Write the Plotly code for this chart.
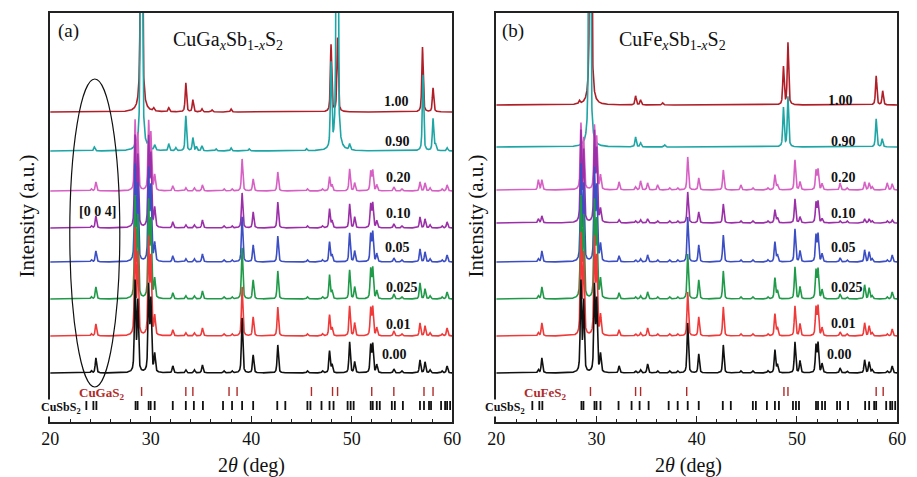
import numpy as np
import plotly.graph_objects as go

# ---------------------------------------------------------------- data
two_theta = np.round(np.arange(20.0, 60.0001, 0.01), 3)

compositions = ["1.00", "0.90", "0.20", "0.10", "0.05", "0.025", "0.01", "0.00"]

# (a) CuGa_xSb_{1-x}S_2 : Ga-rich patterns, (2θ, peak height)
ga_x100 = [(29.08, 600), (30.3, 3), (31.8, 4), (33.5, 29), (34.2, 12), (35.1, 3),
           (36.1, 2), (38.0, 3), (47.95, 67), (48.6, 74), (57.05, 65), (58.1, 24)]
ga_x090 = [(24.4, 4), (28.5, 4), (29.08, 600), (29.75, 5), (30.4, 5), (31.8, 7),
           (32.5, 3), (33.5, 35), (34.2, 13), (34.55, 4), (35.1, 5), (36.5, 2),
           (38.0, 3), (39.8, 2), (45.5, 2), (47.95, 84), (48.55, 600), (49.8, 6),
           (57.1, 76), (58.1, 32), (58.35, 6), (59.5, 3)]

# (a) Sb-rich patterns share the CuSbS2 reflections; heights per composition
ga_sbs_pos = [24.1, 24.55, 28.45, 28.72, 29.8, 30.02, 30.4, 32.2, 33.5, 34.35, 35.15,
              37.3, 38.1, 39.1, 40.2, 42.65, 45.6, 47.1, 47.8, 48.05, 49.8, 50.3,
              51.9, 52.1, 52.5, 54.2, 55.0, 56.8, 57.3, 57.8, 59.0, 59.5]
ga_x020 = [2, 9, 69, 55, 67, 55, 15, 5, 3, 3, 6, 2, 2, 32, 12, 19, 2, 2, 14, 6,
           22, 8, 19, 20, 6, 4, 2, 9, 8, 3, 2, 6]
ga_x010 = [2, 12, 90, 70, 88, 70, 19, 6, 3, 3, 8, 2, 2, 35, 16, 26, 2, 2, 19, 7,
           24, 11, 23, 24, 7, 4, 2, 11, 9, 3, 2, 6]
ga_x005 = [2, 11, 95, 75, 90, 72, 18, 6, 3, 3, 8, 2, 2, 45, 17, 26, 2, 2, 20, 7,
           29, 11, 27, 29, 8, 4, 2, 13, 10, 3, 2, 7]
ga_x0025 = [2, 12, 100, 80, 95, 75, 19, 6, 3, 3, 8, 2, 2, 51, 19, 28, 2, 2, 24, 8,
            29, 12, 29, 30, 8, 5, 2, 16, 10, 3, 2, 7]
ga_x001 = [2, 12, 105, 80, 95, 75, 19, 6, 3, 3, 8, 2, 2, 49, 19, 29, 2, 2, 21, 8,
           30, 13, 27, 28, 8, 5, 2, 13, 10, 3, 2, 8]
ga_x000 = [2, 15, 90, 70, 85, 70, 18, 7, 3, 3, 8, 2, 2, 55, 18, 28, 2, 2, 22, 8,
           31, 11, 27, 28, 8, 4, 2, 13, 11, 3, 2, 7]

# (b) CuFe_xSb_{1-x}S_2 : Fe-rich patterns
fe_x100 = [(28.3, 3), (29.42, 600), (33.9, 9), (34.4, 5), (36.6, 2), (48.65, 38),
           (49.1, 62), (57.9, 29), (58.55, 14)]
fe_x090 = [(29.32, 600), (33.9, 10), (34.4, 4), (36.8, 2), (48.65, 39), (49.1, 50),
           (57.9, 28), (58.5, 8)]

fe_sbs_pos = [24.2, 24.55, 28.45, 28.72, 29.8, 30.02, 30.4, 32.25, 33.9, 34.4, 35.1,
              36.1, 37.3, 38.1, 39.1, 40.2, 42.65, 44.4, 45.6, 47.1, 47.8, 48.05,
              49.8, 50.3, 51.9, 52.1, 52.5, 54.3, 55.0, 56.75, 57.2, 57.5, 59.0, 59.5]
fe_x020 = [10, 10, 65, 50, 62, 50, 14, 8, 3, 9, 7, 5, 2, 2, 33, 12, 20, 5, 2, 2,
           15, 5, 30, 8, 19, 20, 6, 7, 2, 8, 7, 3, 7, 6]
fe_x010 = [4, 7, 90, 70, 88, 70, 13, 3, 2, 3, 4, 2, 2, 2, 31, 11, 19, 2, 2, 2,
           13, 5, 24, 6, 20, 21, 4, 2, 2, 4, 4, 2, 2, 3]
fe_x005 = [3, 11, 95, 75, 90, 72, 17, 6, 2, 3, 7, 2, 2, 2, 45, 17, 27, 2, 2, 2,
           20, 7, 33, 11, 26, 27, 8, 4, 2, 12, 10, 3, 2, 7]
fe_x0025 = [3, 12, 100, 80, 95, 75, 19, 6, 2, 3, 7, 2, 2, 2, 45, 19, 28, 2, 2, 2,
            21, 8, 32, 12, 28, 29, 9, 5, 2, 14, 11, 3, 2, 7]
fe_x001 = [3, 13, 100, 80, 95, 75, 20, 6, 2, 3, 8, 2, 2, 2, 44, 19, 29, 2, 2, 2,
           22, 8, 30, 12, 28, 29, 8, 4, 2, 13, 10, 3, 2, 7]
fe_x000 = [3, 15, 90, 70, 85, 70, 18, 7, 2, 3, 9, 2, 2, 2, 50, 19, 28, 2, 2, 2,
           23, 8, 31, 12, 27, 29, 9, 5, 2, 13, 11, 3, 2, 7]

# reference reflections (2θ)
cugas2_ref = [29.1, 33.5, 34.2, 37.8, 38.6, 46.0, 48.1, 48.6, 52.0, 54.2, 57.2, 58.1]
cufes2_ref = [29.4, 33.9, 34.4, 39.0, 48.7, 49.1, 57.9, 58.6]
cusbs2_ref = [23.6, 24.3, 24.6, 28.5, 28.7, 29.8, 30.0, 30.4, 32.2, 33.5, 34.3, 35.2,
              37.2, 38.1, 39.1, 40.2, 42.6, 43.4, 45.6, 45.9, 47.0, 47.8, 48.2, 49.6,
              49.9, 50.2, 51.9, 52.1, 52.5, 52.8, 54.0, 54.3, 55.1, 56.8, 57.2, 57.7,
              57.9, 58.9, 59.3, 59.5, 59.8]

x_ticks = [20, 30, 40, 50, 60]

# ---------------------------------------------------------------- styling
colors = ["#b01e28", "#1ea5a5", "#d760c4", "#9b2fa8", "#3b4ec4", "#1f9a48",
          "#f03a3a", "#111111"]
offsets_a = [310, 271, 231, 194, 160, 123, 86, 49]
offsets_b = [317, 275, 232, 199, 160, 123, 86, 49]
label_pos_a = [(52.98, 321), (53.14, 281), (53.2, 245), (53.2, 209), (53.14, 175),
               (53.2, 135), (53.27, 98), (52.8, 68)]
label_pos_b = [(52.9, 322), (53.2, 281), (53.2, 245), (53.2, 209), (53.2, 175),
               (53.2, 135), (53.2, 99), (52.8, 68)]
FWHM = 0.16
ETA = 0.55
SERIF = "Liberation Serif"


def profile(peaks):
    """Pseudo-Voigt line profile summed over (2θ, height) reflections."""
    hw = FWHM / 2.0
    sig = FWHM / 2.3548
    y = np.zeros_like(two_theta)
    for pos, h in peaks:
        d = two_theta - pos
        lor = 1.0 / (1.0 + (d / hw) ** 2)
        gau = np.exp(-0.5 * (d / sig) ** 2)
        y += h * (ETA * lor + (1 - ETA) * gau)
    return y


panel_a = [ga_x100, ga_x090] + [list(zip(ga_sbs_pos, h)) for h in
                                 (ga_x020, ga_x010, ga_x005, ga_x0025, ga_x001, ga_x000)]
panel_b = [fe_x100, fe_x090] + [list(zip(fe_sbs_pos, h)) for h in
                                 (fe_x020, fe_x010, fe_x005, fe_x0025, fe_x001, fe_x000)]

fig = go.Figure()


def add_panel(patterns, offsets, xa, ya):
    for peaks, off, col in zip(patterns, offsets, colors):
        fig.add_trace(go.Scatter(x=two_theta, y=profile(peaks) + off, mode="lines",
                                 line=dict(color=col, width=1.6), xaxis=xa, yaxis=ya,
                                 hoverinfo="skip", showlegend=False))


def add_sticks(positions, y0, y1, col, width, xa, ya):
    xs, ys = [], []
    for p in positions:
        xs += [p, p, None]
        ys += [y0, y1, None]
    fig.add_trace(go.Scatter(x=xs, y=ys, mode="lines", line=dict(color=col, width=width),
                             xaxis=xa, yaxis=ya, hoverinfo="skip", showlegend=False))


add_panel(panel_a, offsets_a, "x", "y")
add_panel(panel_b, offsets_b, "x2", "y2")
add_sticks(cugas2_ref, 26, 35, "#b02a2a", 1.4, "x", "y")
add_sticks(cusbs2_ref, 12, 21, "#111111", 1.8, "x", "y")
add_sticks(cufes2_ref, 26, 35, "#b02a2a", 1.4, "x2", "y2")
add_sticks(cusbs2_ref, 12, 21, "#111111", 1.8, "x2", "y2")

axis_x = dict(range=[20, 60], tickvals=x_ticks, ticks="inside", ticklen=6, tickwidth=1.3,
              tickcolor="#222", showline=True, linecolor="#222", linewidth=1.5,
              mirror=True, showgrid=False, zeroline=False,
              minor=dict(dtick=2, ticks="inside", ticklen=3, tickwidth=1.2,
                         tickcolor="#222", showgrid=False),
              tickfont=dict(family=SERIF, size=18, color="#111"))
axis_y = dict(range=[0, 409], showticklabels=False, ticks="", showline=True,
              linecolor="#222", linewidth=1.5, mirror=True, showgrid=False,
              zeroline=False)

fig.update_layout(
    width=917, height=477, margin=dict(l=0, r=0, t=13, b=55),
    paper_bgcolor="white", plot_bgcolor="white",
    xaxis=dict(domain=[42 / 917, 452 / 917], anchor="y", **axis_x),
    yaxis=dict(domain=[0, 1], anchor="x", **axis_y),
    xaxis2=dict(domain=[497 / 917, 906 / 917], anchor="y2", **axis_x),
    yaxis2=dict(domain=[0, 1], anchor="x2", **axis_y),
)


def text_note(x, y, xref, yref, text, size, color="#111", **kw):
    return dict(x=x, y=y, xref=xref, yref=yref, text=text, showarrow=False,
                xanchor=kw.pop("xanchor", "center"), yanchor=kw.pop("yanchor", "middle"),
                font=dict(family=SERIF, size=size, color=color), **kw)


ann = []
for (xa, ya, pos) in (("x", "y", label_pos_a), ("x2", "y2", label_pos_b)):
    for (lx, ly), txt in zip(pos, compositions):
        ann.append(text_note(lx, ly, xa, ya, f"<b>{txt}</b>", 14, xanchor="left"))

ann += [
    text_note(37.7, 382, "x", "y",
              "CuGa<sub><i>x</i></sub>Sb<sub>1-<i>x</i></sub>S<sub>2</sub>", 20),
    text_note(37.6, 382, "x2", "y2",
              "CuFe<sub><i>x</i></sub>Sb<sub>1-<i>x</i></sub>S<sub>2</sub>", 20),
    text_note(21.85, 391, "x", "y", "(a)", 19),
    text_note(21.7, 391, "x2", "y2", "(b)", 19),
    text_note(24.7, 211, "x", "y", "<b>[0 0 4]</b>", 14),
    text_note(25.1, 29, "x", "y", "<b>CuGaS<sub>2</sub></b>", 13, "#b02a2a"),
    text_note(24.9, 29, "x2", "y2", "<b>CuFeS<sub>2</sub></b>", 13, "#b02a2a"),
    text_note(21.1, 14, "x", "y", "<b>CuSbS<sub>2</sub></b>", 12,
              bgcolor="white", borderpad=0),
    text_note(20.9, 14, "x2", "y2", "<b>CuSbS<sub>2</sub></b>", 12,
              bgcolor="white", borderpad=0),
    text_note(18 / 917, 0.504, "paper", "paper", "Intensity (a.u.)", 21, textangle=-90),
    text_note(476 / 917, 0.504, "paper", "paper", "Intensity (a.u.)", 21, textangle=-90),
    text_note(247 / 917, (422 - 465) / 409, "paper", "paper", "2<i>θ</i> (deg)", 20),
    text_note(693 / 917, (422 - 465) / 409, "paper", "paper", "2<i>θ</i> (deg)", 20),
]
fig.update_layout(annotations=ann)

# the [0 0 4] reflection marker
fig.add_shape(type="circle", xref="x", yref="y", x0=21.95, x1=26.93, y0=35, y1=343,
              line=dict(color="#111", width=1.2))

fig.write_html("out.html")
